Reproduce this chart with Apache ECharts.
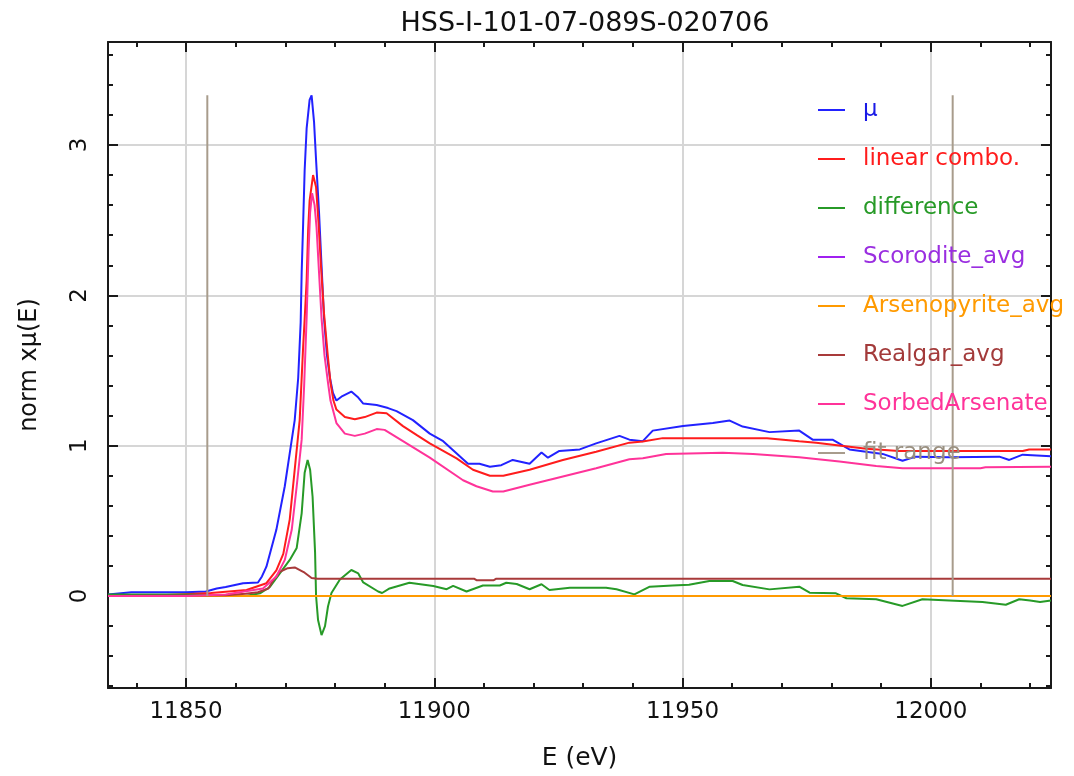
<!DOCTYPE html>
<html>
<head>
<meta charset="utf-8">
<script src="https://cdn.jsdelivr.net/npm/echarts@6/dist/echarts.min.js"></script>
<style>
  html, body { margin: 0; padding: 0; background: #ffffff; }
  #chart { width: 1074px; height: 776px; }
</style>
</head>
<body>
<div id="chart"></div>
<script>
// ---- axis ranges ----
const X_MIN = 11834.3, X_MAX = 12024.2;
const Y_MIN = -0.612, Y_MAX = 3.685;

// ---- measured spectrum (mu) ----
const muE = [11834.3, 11839, 11845, 11850, 11854, 11856.2, 11858, 11861.5, 11864.5, 11865.3, 11866.2, 11868.2, 11869.9, 11870.9, 11871.9, 11872.6, 11873.1, 11873.3, 11873.6, 11873.9, 11874.3, 11874.9, 11875.3, 11875.8, 11876.2, 11876.8, 11877.3, 11877.8, 11878.4, 11879.0, 11879.6, 11880.3, 11881.5, 11883.3, 11884.7, 11885.7, 11888.4, 11890.7, 11892.4, 11895.7, 11899.1, 11901.8, 11903.8, 11906.8, 11909.1, 11911.2, 11913.5, 11915.8, 11919.2, 11921.6, 11922.9, 11925.2, 11929.3, 11932.6, 11937.3, 11939.3, 11942, 11944, 11950.1, 11956.1, 11959.5, 11962.1, 11967.5, 11973.5, 11976.2, 11980.2, 11983.6, 11990.3, 11994.3, 11997, 12003.7, 12013.8, 12015.8, 12018.5, 12024.2];
const muV = [0.01, 0.025, 0.025, 0.025, 0.03, 0.05, 0.06, 0.085, 0.09, 0.13, 0.195, 0.44, 0.73, 0.95, 1.17, 1.45, 1.82, 2.15, 2.48, 2.83, 3.11, 3.30, 3.33, 3.15, 2.9, 2.55, 2.2, 1.85, 1.6, 1.45, 1.35, 1.30, 1.33, 1.36, 1.32, 1.28, 1.27, 1.25, 1.23, 1.17, 1.08, 1.03, 0.97, 0.88, 0.88, 0.86, 0.87, 0.905, 0.88, 0.955, 0.92, 0.965, 0.975, 1.015, 1.065, 1.04, 1.03, 1.10, 1.13, 1.15, 1.167, 1.127, 1.09, 1.10, 1.04, 1.04, 0.975, 0.945, 0.90, 0.927, 0.923, 0.927, 0.905, 0.94, 0.93];

// ---- linear combination fit ----
const lcE = [11834.3, 11845, 11855, 11862.2, 11866.2, 11868.2, 11869.6, 11870.9, 11871.9, 11872.9, 11873.6, 11873.9, 11874.3, 11874.6, 11874.9, 11875.6, 11876.2, 11876.7, 11877.2, 11877.8, 11878.5, 11879.1, 11879.7, 11880.3, 11882, 11884, 11886, 11888.4, 11890.4, 11893.7, 11896.5, 11899.1, 11904.5, 11907.8, 11911.2, 11913.9, 11919.2, 11925.9, 11932.6, 11939.3, 11942, 11946, 11967, 11973.5, 11976.9, 11987, 11993.6, 12018.5, 12019.8, 12024.2];
const lcV = [0.0, 0.005, 0.02, 0.04, 0.085, 0.17, 0.28, 0.51, 0.84, 1.17, 1.66, 1.84, 2.1, 2.43, 2.63, 2.80, 2.72, 2.48, 2.19, 1.88, 1.62, 1.42, 1.30, 1.24, 1.19, 1.175, 1.19, 1.22, 1.215, 1.13, 1.07, 1.015, 0.915, 0.84, 0.80, 0.80, 0.84, 0.905, 0.96, 1.02, 1.027, 1.05, 1.05, 1.03, 1.02, 0.98, 0.965, 0.965, 0.975, 0.975];

// ---- residual (mu - fit) ----
const dfE = [11834.3, 11850, 11862, 11864.9, 11866.9, 11868.9, 11870.9, 11872.3, 11873.3, 11873.9, 11874.5, 11875, 11875.5, 11876, 11876.2, 11876.6, 11877.3, 11878, 11878.6, 11879.3, 11881, 11883.3, 11884.7, 11885.7, 11888.7, 11889.5, 11891, 11895, 11899.8, 11902.5, 11903.8, 11906.5, 11909.8, 11913.2, 11914.5, 11916.6, 11919.2, 11921.6, 11923.2, 11927.3, 11934.6, 11936.7, 11940.3, 11943.4, 11948, 11951.3, 11955.4, 11960.1, 11962.1, 11967.5, 11973.5, 11975.6, 11980.9, 11983, 11989, 11994.3, 11998.3, 12003.7, 12010.4, 12015.1, 12017.8, 12020, 12022, 12024.2];
const dfV = [0.01, 0.01, 0.0, 0.018, 0.06, 0.15, 0.24, 0.32, 0.55, 0.82, 0.905, 0.84, 0.66, 0.29, 0.0, -0.16, -0.26, -0.2, -0.07, 0.02, 0.11, 0.173, 0.15, 0.09, 0.03, 0.02, 0.05, 0.088, 0.067, 0.045, 0.067, 0.03, 0.07, 0.07, 0.088, 0.08, 0.045, 0.078, 0.04, 0.055, 0.055, 0.045, 0.011, 0.062, 0.07, 0.075, 0.10, 0.10, 0.073, 0.044, 0.062, 0.022, 0.018, -0.015, -0.022, -0.066, -0.022, -0.03, -0.04, -0.058, -0.022, -0.03, -0.04, -0.03];

// ---- weighted standards ----
const scE = [11834.3, 12024.2];
const scV = [0, 0];
const apE = [11834.3, 12024.2];
const apV = [0, 0];
const rgE = [11834.3, 11858, 11862, 11864.5, 11866.6, 11867.6, 11868.9, 11870.5, 11871.9, 11873.9, 11875.3, 11876.5, 11908, 11908.5, 11912, 11912.5, 12024.2];
const rgV = [0.0, 0.005, 0.015, 0.025, 0.05, 0.106, 0.16, 0.185, 0.19, 0.155, 0.12, 0.115, 0.115, 0.105, 0.105, 0.115, 0.115];
const saE = [11834.3, 11850, 11858, 11865.5, 11868.2, 11869.9, 11871.3, 11872.3, 11873.3, 11873.8, 11874.3, 11874.7, 11875.0, 11875.4, 11875.9, 11876.3, 11876.8, 11877.3, 11877.9, 11878.6, 11879.1, 11880.3, 11882, 11884, 11886, 11888.4, 11890, 11893.7, 11899.1, 11905.8, 11908.5, 11911.8, 11913.9, 11919.2, 11925.9, 11932.6, 11939.3, 11942, 11946.7, 11958.1, 11964.2, 11973.5, 11981.6, 11989, 11994.3, 12010, 12011, 12024.2];
const saV = [0.0, 0.0, 0.01, 0.05, 0.13, 0.24, 0.44, 0.73, 1.04, 1.4, 1.85, 2.3, 2.55, 2.68, 2.6, 2.45, 2.15, 1.85, 1.6, 1.42, 1.30, 1.15, 1.08, 1.065, 1.08, 1.11, 1.105, 1.03, 0.92, 0.77, 0.73, 0.695, 0.695, 0.74, 0.795, 0.85, 0.91, 0.916, 0.945, 0.953, 0.945, 0.923, 0.894, 0.865, 0.85, 0.85, 0.857, 0.86];

// ---- fit window ----
const fitE = [11854.3, 12004.4];
const fitTop = 3.33;

// ---- labels ----
const titleText = 'HSS-I-101-07-089S-020706';
const xName = 'E (eV)';
const yName = 'norm xμ(E)';
const names = ['μ', 'linear combo.', 'difference', 'Scorodite_avg', 'Arsenopyrite_avg', 'Realgar_avg', 'SorbedArsenate', 'fit range'];
const colors = ['#2222ff', '#ff1c1c', '#279a27', '#a020f0', '#ff9a00', '#a83a3a', '#ff3399', '#a89c8c'];
const textColors = ['#1a1ae6', '#ff1c1c', '#279a27', '#9a2ee0', '#ff9a00', '#a33a3a', '#ff3399', '#9a9080'];

const FONT = '"DejaVu Sans", "Liberation Sans", sans-serif';
const frame = { color: '#1a1a1a', width: 2 };
const gridLine = { color: '#d6d6d6', width: 2 };

const pairs = (xs, ys) => xs.map((x, i) => [x, ys[i]]);
const isMultiple = (v, step) => Math.abs(v / step - Math.round(v / step)) < 1e-6;

function xAxisDef(position, split, major) {
  return {
    type: 'value', position: position, min: X_MIN, max: X_MAX, splitNumber: split,
    axisLine: { show: major, onZero: false, lineStyle: frame },
    axisTick: { show: true, inside: true, length: major ? 10 : 5, lineStyle: frame },
    axisLabel: { show: false },
    splitLine: { show: false }
  };
}
function yAxisDef(position, split, major) {
  return {
    type: 'value', position: position, min: Y_MIN, max: Y_MAX, splitNumber: split,
    axisLine: { show: major, onZero: false, lineStyle: frame },
    axisTick: { show: true, inside: true, length: major ? 10 : 5, lineStyle: frame },
    axisLabel: { show: false },
    splitLine: { show: false }
  };
}

const xMain = xAxisDef('bottom', 4, true);
xMain.splitLine = { show: true, lineStyle: gridLine };
xMain.axisLabel = {
  show: true, margin: 13, fontFamily: FONT, fontSize: 23, color: '#111',
  formatter: v => isMultiple(v, 50) ? String(Math.round(v)) : ''
};
xMain.name = xName;
xMain.nameLocation = 'middle';
xMain.nameGap = 58;
xMain.nameTextStyle = { fontFamily: FONT, fontSize: 25, color: '#111' };

const yMain = yAxisDef('left', 4, true);
yMain.splitLine = { show: true, lineStyle: gridLine };
yMain.axisLabel = {
  show: true, rotate: 90, margin: 16, fontFamily: FONT, fontSize: 23, color: '#111',
  formatter: v => isMultiple(v, 1) ? String(Math.round(v)) : ''
};
yMain.name = yName;
yMain.nameLocation = 'middle';
yMain.nameGap = 66;
yMain.nameRotate = 90;
yMain.nameTextStyle = { fontFamily: FONT, fontSize: 24, color: '#111' };

const seriesDefs = [
  [muE, muV], [lcE, lcV], [dfE, dfV], [scE, scV], [apE, apV], [rgE, rgV], [saE, saV]
];

const series = seriesDefs.map((d, i) => ({
  name: names[i], type: 'line', xAxisIndex: 0, yAxisIndex: 0,
  data: pairs(d[0], d[1]), showSymbol: false, symbol: 'none',
  color: colors[i], lineStyle: { color: colors[i], width: 2 },
  emphasis: { disabled: true }, z: 2 + i * 0.01
}));
fitE.forEach(e => {
  series.push({
    name: names[7], type: 'line', xAxisIndex: 0, yAxisIndex: 0,
    data: [[e, 0], [e, fitTop]], showSymbol: false, symbol: 'none',
    color: colors[7], lineStyle: { color: colors[7], width: 2 },
    emphasis: { disabled: true }, z: 3
  });
});

const option = {
  animation: false,
  backgroundColor: '#ffffff',
  title: {
    text: titleText, left: 580, textAlign: 'center', top: 5,
    textStyle: { fontFamily: FONT, fontSize: 27, fontWeight: 'normal', color: '#111' }
  },
  grid: { left: 108, right: 23, top: 42, bottom: 88, containLabel: false },
  xAxis: [xMain, xAxisDef('bottom', 19, false), xAxisDef('top', 4, true), xAxisDef('top', 19, false)],
  yAxis: [yMain, yAxisDef('left', 21, false), yAxisDef('right', 4, true), yAxisDef('right', 21, false)],
  legend: {
    orient: 'vertical', left: 818, top: 98, padding: 0,
    icon: 'rect', itemWidth: 27, itemHeight: 2, itemGap: 25,
    selectedMode: false,
    textStyle: { fontFamily: FONT, fontSize: 23, lineHeight: 24, padding: [0, 0, 0, 13] },
    data: names.map((n, i) => ({ name: n, textStyle: { color: textColors[i] } }))
  },
  series: series
};

const chart = echarts.init(document.getElementById('chart'), null, { renderer: 'canvas' });
chart.setOption(option);
</script>
</body>
</html>
